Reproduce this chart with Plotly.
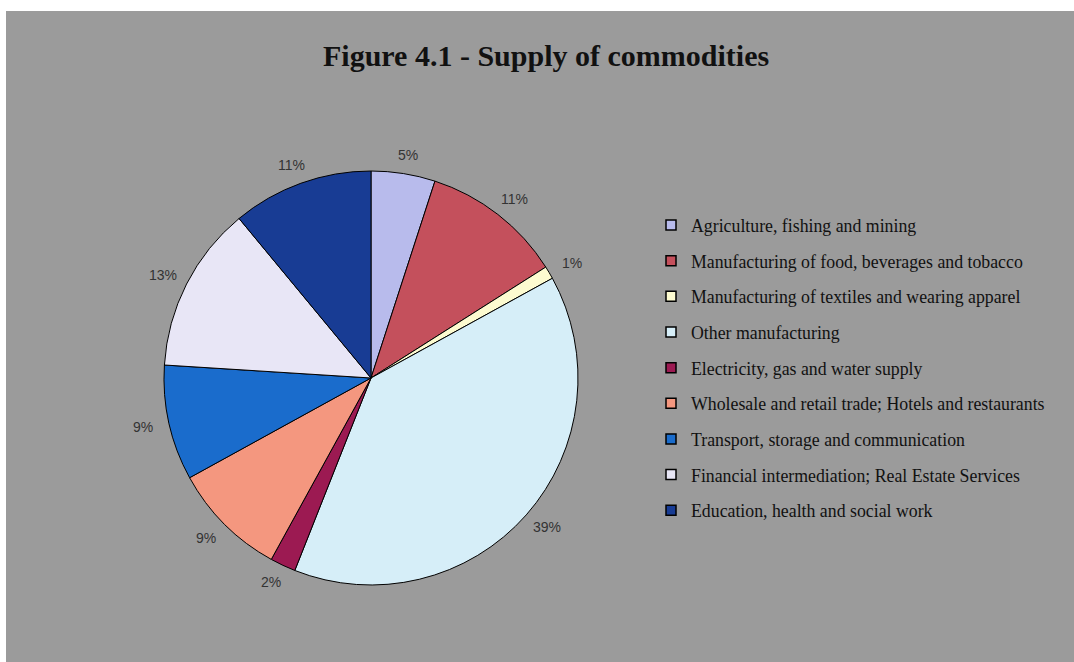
import math
import plotly.graph_objects as go

categories = [
    "Agriculture, fishing and mining",
    "Manufacturing of food, beverages and tobacco",
    "Manufacturing of textiles and wearing apparel",
    "Other manufacturing",
    "Electricity, gas and water supply",
    "Wholesale and retail trade; Hotels and restaurants",
    "Transport, storage and communication",
    "Financial intermediation; Real Estate Services",
    "Education, health and social work",
]
shares = [5, 11, 1, 39, 2, 9, 9, 13, 11]
colors = ["#b8bbec", "#c4505c", "#fdfbd0", "#d6eef8", "#9c1a52",
          "#f4977f", "#1a6ccc", "#e8e6f6", "#183c94"]

W, H = 1074, 662
BG = "#9b9b9b"

# pie geometry (pixels)
CX, CY, R = 371, 378, 207
LAB_RX, LAB_RY = 234, 226


def px_x(v):
    return v / W


def px_y(v):
    return 1 - v / H


fig = go.Figure()

fig.add_trace(go.Pie(
    labels=categories,
    values=shares,
    sort=False,
    direction="clockwise",
    rotation=0,
    marker=dict(colors=colors, line=dict(color="black", width=1)),
    textinfo="none",
    showlegend=False,
    hoverinfo="label+percent",
    domain=dict(x=[px_x(CX - R), px_x(CX + R)], y=[px_y(CY + R), px_y(CY - R)]),
))

for name, col in zip(categories, colors):
    fig.add_trace(go.Scatter(
        x=[None], y=[None], mode="markers", name=name, legendgroup=name,
        marker=dict(symbol="square", size=10, color=col,
                    line=dict(color="black", width=1.5)),
    ))

# percentage labels placed around the pie from the data
total = sum(shares)
annotations = []
cum = 0
for s in shares:
    f = (cum + s / 2) / total
    cum += s
    th = 2 * math.pi * f
    lx = CX + LAB_RX * math.sin(th)
    ly = CY - LAB_RY * math.cos(th)
    annotations.append(dict(
        text=f"{round(100 * s / total)}%", x=px_x(lx), y=px_y(ly),
        xref="paper", yref="paper", showarrow=False,
        xanchor="center", yanchor="middle",
        font=dict(family="Liberation Sans, Arial", size=14, color="#333333"),
    ))

annotations.append(dict(
    text="<b>Figure 4.1 - Supply of commodities</b>", x=px_x(546), y=px_y(55),
    xref="paper", yref="paper", showarrow=False,
    xanchor="center", yanchor="middle",
    font=dict(family="Liberation Serif, Times New Roman", size=30, color="#111111"),
))

fig.update_layout(
    width=W, height=H,
    margin=dict(l=0, r=0, t=0, b=0),
    paper_bgcolor=BG,
    plot_bgcolor=BG,
    xaxis=dict(visible=False),
    yaxis=dict(visible=False),
    legend=dict(
        x=px_x(651), y=px_y(207), xanchor="left", yanchor="top",
        font=dict(family="Liberation Serif, Times New Roman", size=17.8, color="#111111"),
        bgcolor="rgba(0,0,0,0)",
        tracegroupgap=9.5,
    ),
    shapes=[
        dict(type="rect", xref="paper", yref="paper", x0=0, x1=1,
             y0=px_y(11), y1=1, fillcolor="white", line=dict(width=0), layer="below"),
        dict(type="rect", xref="paper", yref="paper", x0=0, x1=px_x(6),
             y0=0, y1=1, fillcolor="white", line=dict(width=0), layer="below"),
    ],
    annotations=annotations,
)

fig.write_html("out.html")
